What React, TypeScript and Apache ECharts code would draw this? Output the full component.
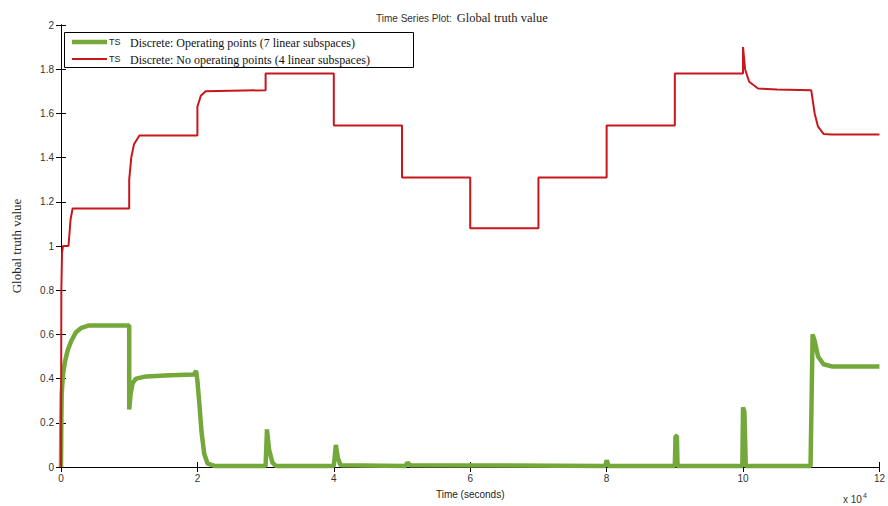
import React, { useEffect, useRef } from "react";
import * as echarts from "echarts";

// time in units of 10^4 seconds
const operatingPoints: [number, number][] = [
  [0, 0], [0.005, 0.2], [0.01, 0.33], [0.03, 0.42], [0.06, 0.48], [0.1, 0.53], [0.15, 0.57],
  [0.22, 0.61], [0.3, 0.63], [0.4, 0.64], [1.0, 0.64], [1.0, 0.26], [1.02, 0.33], [1.05, 0.38],
  [1.1, 0.4], [1.25, 0.41], [1.6, 0.415], [1.95, 0.418], [1.98, 0.435], [2.0, 0.39], [2.03, 0.28],
  [2.06, 0.16], [2.1, 0.06], [2.15, 0.015], [2.25, 0.005], [3.0, 0.005], [3.02, 0.17], [3.05, 0.08],
  [3.1, 0.02], [3.15, 0.005], [4.0, 0.005], [4.03, 0.1], [4.06, 0.04], [4.1, 0.008], [5.05, 0.005],
  [5.08, 0.02], [5.12, 0.008], [7.98, 0.005], [8.0, 0.03], [8.03, 0.005], [9.0, 0.005], [9.01, 0.14],
  [9.03, 0.14], [9.04, 0.005], [9.99, 0.005], [10.0, 0.27], [10.02, 0.25], [10.04, 0.005],
  [10.99, 0.005], [11.02, 0.6], [11.05, 0.57], [11.1, 0.5], [11.18, 0.465], [11.3, 0.455], [12, 0.455],
];

const noOperatingPoints: [number, number][] = [
  [0, 0], [0.005, 0.8], [0.015, 0.97], [0.03, 1.0], [0.11, 1.0], [0.14, 1.12], [0.17, 1.17],
  [1.0, 1.17], [1.0, 1.3], [1.03, 1.4], [1.07, 1.46], [1.15, 1.5], [2.0, 1.5], [2.0, 1.63],
  [2.05, 1.68], [2.12, 1.7], [3.0, 1.705], [3.0, 1.78], [4.0, 1.78], [4.0, 1.545], [5.0, 1.545],
  [5.0, 1.31], [6.0, 1.31], [6.0, 1.08], [7.0, 1.08], [7.0, 1.31], [8.0, 1.31], [8.0, 1.545],
  [9.0, 1.545], [9.0, 1.78], [10.0, 1.78], [10.0, 1.9], [10.03, 1.8], [10.09, 1.743], [10.22, 1.713],
  [10.5, 1.708], [11.0, 1.705], [11.05, 1.6], [11.1, 1.54], [11.18, 1.507], [11.3, 1.505], [12, 1.505],
];

const seriesNames = [
  "Discrete: Operating points (7 linear subspaces)",
  "Discrete: No operating points (4 linear subspaces)",
];

const SANS = "'Liberation Sans', Arial, sans-serif";
const SERIF = "'Liberation Serif', 'Times New Roman', serif";
const GREEN = "#74a83a";
const RED = "#c8161d";

export default function App() {
  const ref = useRef<HTMLDivElement>(null);
  useEffect(() => {
    if (!ref.current) return;
    const chart = echarts.init(ref.current, null, { renderer: "svg" });
    const axisCommon = {
      axisLine: { show: true, lineStyle: { color: "#000", width: 1 } },
      axisTick: { show: true, inside: true, length: 5, lineStyle: { color: "#000" } },
      splitLine: { show: false },
    };
    chart.setOption({
      animation: false,
      backgroundColor: "#fff",
      title: {
        text: "{a|Time Series Plot:} {b|Global truth value}",
        left: 371,
        top: 4,
        textStyle: {
          fontWeight: "normal",
          rich: {
            a: { fontFamily: SANS, fontSize: 10, color: "#333", fontWeight: "normal" },
            b: { fontFamily: SERIF, fontSize: 12.5, color: "#222", fontWeight: "normal" },
          },
        },
      },
      grid: { left: 61, right: 5, top: 25, bottom: 39 },
      xAxis: [
        {
          type: "value", min: 0, max: 12, interval: 2, ...axisCommon,
          axisLabel: { fontFamily: SANS, fontSize: 10, color: "#333", margin: 6 },
          name: "Time (seconds)", nameLocation: "middle", nameGap: 22,
          nameTextStyle: { fontFamily: SANS, fontSize: 10, color: "#222" },
        },
        {
          type: "value", min: 0, max: 12, interval: 2, position: "top", ...axisCommon,
          axisLabel: { show: false },
        },
      ],
      yAxis: [
        {
          type: "value", min: 0, max: 2, interval: 0.2, ...axisCommon,
          axisLabel: { fontFamily: SANS, fontSize: 10, color: "#333", margin: 7 },
          name: "Global truth value", nameLocation: "middle", nameGap: 38, nameRotate: 90,
          nameTextStyle: { fontFamily: SERIF, fontSize: 13, color: "#222" },
        },
        {
          type: "value", min: 0, max: 2, interval: 0.2, position: "right", ...axisCommon,
          axisLabel: { show: false },
        },
      ],
      series: [
        {
          name: seriesNames[0], type: "line", data: operatingPoints, showSymbol: false,
          lineStyle: { color: GREEN, width: 4.5 }, z: 3,
        },
        {
          name: seriesNames[1], type: "line", data: noOperatingPoints, showSymbol: false,
          lineStyle: { color: RED, width: 2 }, z: 4,
        },
      ],
      graphic: [
        {
          type: "rect", shape: { x: 64.5, y: 32.5, width: 349, height: 35 },
          style: { fill: "#fff", stroke: "#000", lineWidth: 1 }, z: 10,
        },
        { type: "line", shape: { x1: 72, y1: 42, x2: 107, y2: 42 }, style: { stroke: GREEN, lineWidth: 4.5 }, z: 11 },
        { type: "line", shape: { x1: 72, y1: 59, x2: 107, y2: 59 }, style: { stroke: RED, lineWidth: 1.8 }, z: 11 },
        { type: "text", x: 109, y: 42, style: { text: "TS", font: `9px ${SANS}`, fill: "#222", verticalAlign: "middle" }, z: 11 },
        { type: "text", x: 109, y: 59, style: { text: "TS", font: `9px ${SANS}`, fill: "#222", verticalAlign: "middle" }, z: 11 },
        { type: "text", x: 130, y: 43, style: { text: seriesNames[0], font: `12px ${SERIF}`, fill: "#111", verticalAlign: "middle" }, z: 11 },
        { type: "text", x: 130, y: 60, style: { text: seriesNames[1], font: `12px ${SERIF}`, fill: "#111", verticalAlign: "middle" }, z: 11 },
        {
          type: "text", x: 843, y: 492,
          style: {
            text: "x 10{s|4}", font: `10px ${SANS}`, fill: "#333",
            rich: { s: { fontSize: 7, fontFamily: SANS, verticalAlign: "top", padding: [0, 0, 8, 1] } },
          },
        },
      ],
    });
    return () => chart.dispose();
  }, []);
  return <div ref={ref} style={{ width: 888, height: 506, position: "absolute", left: 0, top: 0 }} />;
}
